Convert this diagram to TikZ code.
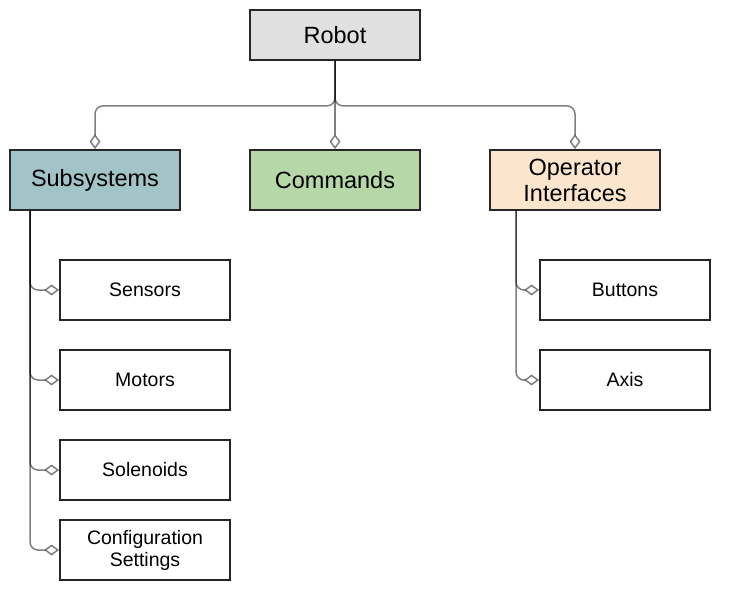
\documentclass[tikz,border=0pt]{standalone}
\usepackage{fontspec}
\setmainfont{Liberation Sans}
\usetikzlibrary{arrows.meta}
\definecolor{robotfill}{HTML}{E0E0E0}
\definecolor{subsysfill}{HTML}{A2C4C9}
\definecolor{cmdfill}{HTML}{B6D7A8}
\definecolor{operfill}{HTML}{FCE5CD}

\begin{document}
\begin{tikzpicture}[x=1pt, y=-1pt]
	\tikzstyle{every node} = [draw=black!85, line width=1.8pt, minimum width=170pt, align=center, inner sep=2pt]
	\tikzstyle{group} = [minimum height=60pt, font=\fontsize{23.5}{26}\selectfont]
	\tikzstyle{part} = [fill=white, minimum height=60pt, font=\fontsize{19.5}{22}\selectfont]
	\tikzstyle{link} = [draw=black, draw opacity=0.5, line width=1.5pt, rounded corners=8pt, -{Diamond[open, length=15pt, width=11pt]}]
	\useasboundingbox (0,0) rectangle (734,600);
	\node[group, fill=robotfill, minimum height=50pt] (robot) at (335,35) {Robot};
	\node[group, fill=subsysfill] (subsys) at (95,180) {Subsystems};
	\node[group, fill=cmdfill] (cmds) at (335,180) {Commands};
	\node[group, fill=operfill] (oper) at (575,180) {Operator\\Interfaces};
	\node[part] (sensors) at (145,290) {Sensors};
	\node[part] (motors) at (145,380) {Motors};
	\node[part] (solenoids) at (145,470) {Solenoids};
	\node[part] (config) at (145,550) {Configuration\\Settings};
	\node[part] (buttons) at (625,290) {Buttons};
	\node[part] (axis) at (625,380) {Axis};
	\draw [link] (robot.south) -- ++(0,45) -| (subsys.north);
	\draw [link] (robot.south) -- (cmds.north);
	\draw [link] (robot.south) -- ++(0,45) -| (oper.north);
	\draw [link] ([xshift=-65pt]subsys.south) |- (sensors.west);
	\draw [link] ([xshift=-65pt]subsys.south) |- (motors.west);
	\draw [link] ([xshift=-65pt]subsys.south) |- (solenoids.west);
	\draw [link] ([xshift=-65pt]subsys.south) |- (config.west);
	\draw [link] ([xshift=-59pt]oper.south) |- (buttons.west);
	\draw [link] ([xshift=-59pt]oper.south) |- (axis.west);
\end{tikzpicture}
\end{document}
